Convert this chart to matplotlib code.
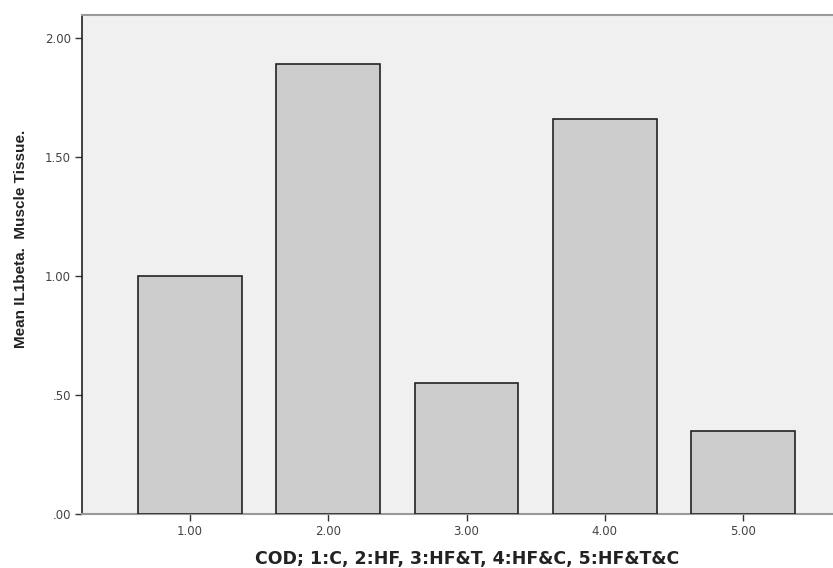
import matplotlib
matplotlib.use("Agg")
import matplotlib.pyplot as plt

categories = [1.0, 2.0, 3.0, 4.0, 5.0]
tick_labels = ["1.00", "2.00", "3.00", "4.00", "5.00"]
values = [1.00, 1.89, 0.55, 1.66, 0.35]
y_ticks = [0.0, 0.5, 1.0, 1.5, 2.0]
y_tick_labels = [".00", ".50", "1.00", "1.50", "2.00"]

plt.rcParams['font.family'] = ['Liberation Sans', 'DejaVu Sans']

fig = plt.figure(figsize=(8.33, 5.68), dpi=100)
ax = fig.add_axes([82/833, 54/568, 1 - 82/833 + 0.01, (514-15)/568])
ax.set_facecolor('#f0f0f0')
ax.bar(categories, values, width=0.75, color='#cccccc', edgecolor='#222222', linewidth=1.2, zorder=3)
ax.set_xlim(0.22, 5.71)
ax.set_ylim(0, 2.096)
ax.set_xticks(categories)
ax.set_xticklabels(tick_labels, fontsize=8.5, color='#444444', family=['DejaVu Sans'])
ax.set_yticks(y_ticks)
ax.set_yticklabels(y_tick_labels, fontsize=8.5, color='#444444', family=['DejaVu Sans'])
ax.tick_params(axis='both', length=5, width=1, color='#333333', pad=3)
for s in ['top', 'right']:
    ax.spines[s].set_color('#999999')
ax.spines['left'].set_color('#222222')
ax.spines['bottom'].set_color('#999999')
ax.spines['bottom'].set_linewidth(1.5)
ax.spines['left'].set_linewidth(1.2)
ax.spines['top'].set_linewidth(1.5)
ax.set_xlabel("COD; 1:C, 2:HF, 3:HF&T, 4:HF&C, 5:HF&T&C", fontsize=12.5, fontweight='bold',
              color='#222222', family=['DejaVu Sans'])
ax.xaxis.set_label_coords((463 - 82) / 751, (514 - 550) / 499)
ax.set_ylabel("Mean IL1beta.  Muscle Tissue.", fontsize=11, fontweight='bold', color='#222222')
ax.yaxis.set_label_coords((29 - 82) / 751, (514 - 239) / 499)
fig.savefig("out.png", dpi=100, facecolor='white')
